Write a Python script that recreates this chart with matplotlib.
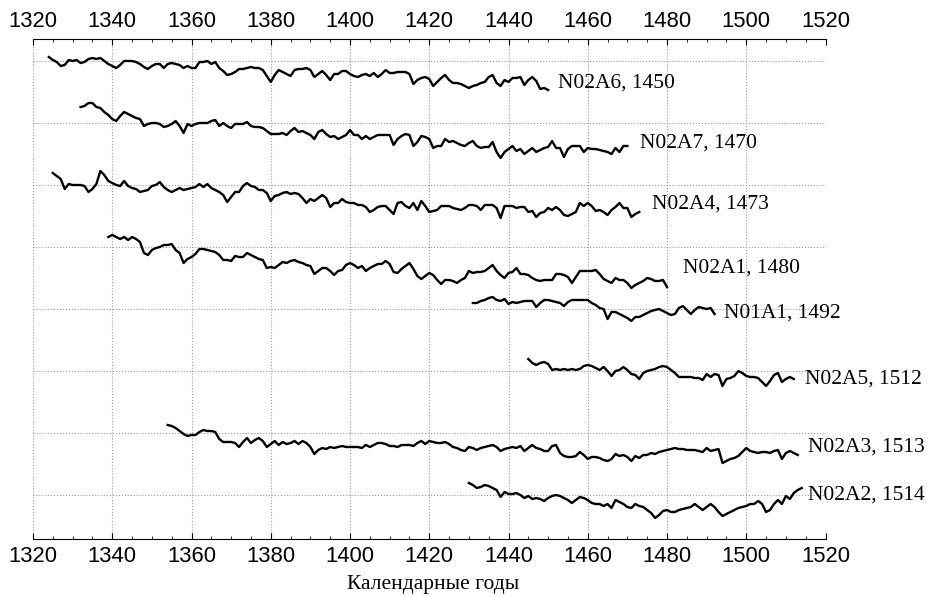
""" Tree-ring series of N01/N02 samples against calendar years """
import numpy as np
from matplotlib import pyplot as plt
from matplotlib.ticker import MultipleLocator

plt.rcParams['font.family'] = ['Liberation Sans', 'DejaVu Sans']

# Sample names and their end (outermost ring) years
names = ['N02A6', 'N02A7', 'N02A4', 'N02A1', 'N01A1', 'N02A5', 'N02A3', 'N02A2']
end_years = [1450, 1470, 1473, 1480, 1492, 1512, 1513, 1514]

# Annual values (deviation from each series' reference level)
n02a6 = [4, 1, -1, -5, -4, 1, 0, 1, -2, -1,
         2, 3, 2, 3, 0, -3, -5, -7, -4, 0,
         0, 0, -1, -3, -6, -8, -5, -3, -3, -7,
         -3, -2, -3, -4, -7, -5, -7, -7, -1, -1,
         0, -3, -1, -7, -10, -14, -13, -11, -8, -8,
         -7, -6, -7, -7, -9, -15, -21, -14, -9, -11,
         -13, -15, -9, -8, -8, -7, -9, -16, -13, -10,
         -14, -19, -13, -13, -10, -10, -13, -15, -16, -14,
         -13, -15, -12, -16, -13, -9, -12, -12, -11, -11,
         -11, -13, -23, -19, -17, -16, -18, -25, -21, -17,
         -14, -19, -22, -22, -23, -25, -27, -25, -24, -22,
         -21, -16, -14, -22, -25, -19, -21, -17, -17, -16,
         -24, -19, -16, -20, -28, -27, -29]

n02a7 = [16, 17, 20, 20, 16, 15, 11, 8, 4, 2,
         7, 11, 9, 7, 5, 4, -3, -1, 0, 0,
         -1, -4, -3, -1, 2, -3, -10, -1, -3, -1,
         0, 0, 0, 2, 3, -3, 0, -3, -5, -1,
         -1, -1, 1, -3, -4, -4, -5, -8, -11, -11,
         -11, -10, -12, -8, -5, -9, -8, -10, -12, -16,
         -9, -7, -11, -14, -13, -16, -14, -12, -7, -12,
         -12, -16, -13, -16, -14, -12, -12, -12, -12, -22,
         -16, -13, -11, -12, -23, -19, -13, -14, -16, -25,
         -23, -23, -16, -19, -18, -20, -22, -23, -20, -18,
         -23, -25, -24, -24, -19, -29, -35, -29, -26, -23,
         -28, -26, -31, -28, -25, -29, -27, -25, -24, -18,
         -25, -25, -34, -26, -23, -23, -23, -29, -25, -26,
         -26, -27, -28, -29, -31, -25, -29, -23, -23]

n02a4 = [12, 9, 6, -4, 1, 0, 0, 0, -1, -7,
         -4, 1, 14, 10, 4, 2, 0, -1, 4, -1,
         -3, -4, -7, -6, -5, -1, 0, 3, -2, -5,
         -7, -5, -3, -5, -4, -3, -2, 1, -2, 1,
         -3, -5, -7, -10, -17, -12, -7, -7, -1, 2,
         -1, -2, -5, -5, -8, -16, -11, -10, -8, -7,
         -9, -8, -9, -13, -18, -14, -16, -13, -10, -13,
         -22, -18, -18, -14, -17, -18, -18, -20, -20, -22,
         -27, -25, -22, -21, -21, -25, -29, -18, -17, -21,
         -23, -18, -25, -16, -21, -27, -26, -25, -21, -21,
         -21, -23, -24, -25, -23, -20, -20, -21, -25, -20,
         -20, -20, -23, -33, -21, -21, -21, -23, -22, -22,
         -27, -26, -32, -28, -27, -23, -25, -22, -25, -30,
         -31, -29, -27, -18, -21, -18, -21, -26, -25, -27,
         -30, -25, -22, -18, -23, -23, -32, -29, -27]

n02a1 = [10, 12, 10, 8, 10, 7, 10, 8, 5, -6,
         -8, -3, -1, 0, 2, 2, 3, -3, -6, -16,
         -12, -10, -7, -2, -2, -3, -4, -5, -8, -13,
         -13, -14, -9, -10, -10, -6, -8, -10, -12, -13,
         -21, -20, -21, -18, -15, -16, -14, -13, -15, -16,
         -18, -19, -27, -24, -21, -21, -24, -28, -24, -23,
         -18, -16, -18, -21, -19, -24, -21, -19, -17, -17,
         -14, -17, -25, -26, -22, -19, -16, -22, -29, -32,
         -29, -26, -28, -33, -37, -33, -33, -34, -36, -33,
         -31, -24, -26, -25, -25, -24, -21, -18, -24, -28,
         -31, -26, -25, -21, -27, -27, -28, -31, -33, -34,
         -33, -33, -33, -27, -27, -28, -30, -36, -30, -24,
         -24, -24, -24, -23, -27, -32, -34, -36, -31, -33,
         -33, -36, -41, -38, -36, -34, -31, -32, -34, -34,
         -33, -40]

n01a1 = [6, 6, 8, 9, 11, 12, 9, 8, 10, 5,
         7, 6, 7, 8, 8, 8, 2, 6, 9, 9,
         8, 7, 6, 3, 7, 9, 9, 9, 9, 9,
         6, 4, 1, 0, -10, -3, -3, -5, -7, -9,
         -12, -8, -8, -6, -4, -2, -1, 0, -2, -4,
         -6, -5, 1, 3, -1, -5, -1, 2, 1, 0,
         1, -5]

n02a5 = [12, 8, 6, 8, 9, 7, 1, 2, 1, 2,
         1, 2, 1, 2, 5, 6, 5, 3, 1, 4,
         0, -5, 0, 1, 4, 1, -3, -4, -8, -2,
         0, 1, 2, 4, 5, 4, 1, -2, -6, -6,
         -6, -6, -7, -7, -9, -3, -6, -3, -4, -15,
         -8, -7, -5, 0, -2, -5, -6, -6, -7, -11,
         -15, -10, -4, -2, -11, -8, -6, -8]

n02a3 = [8, 7, 5, 2, -1, -3, -2, -2, 1, 3,
         2, 2, 1, -6, -9, -9, -9, -10, -14, -9,
         -5, -10, -7, -5, -8, -14, -11, -8, -12, -9,
         -11, -10, -8, -11, -8, -10, -14, -21, -17, -15,
         -16, -14, -15, -14, -13, -14, -14, -14, -14, -15,
         -12, -14, -12, -10, -10, -11, -13, -13, -14, -12,
         -12, -12, -13, -10, -8, -11, -8, -9, -10, -10,
         -9, -11, -14, -15, -17, -18, -14, -15, -17, -15,
         -14, -13, -12, -14, -18, -16, -15, -14, -15, -13,
         -18, -15, -12, -15, -16, -18, -18, -13, -12, -20,
         -23, -24, -24, -23, -19, -22, -26, -24, -24, -25,
         -27, -28, -26, -21, -23, -22, -24, -28, -23, -25,
         -22, -22, -20, -21, -19, -18, -17, -16, -15, -16,
         -16, -17, -17, -17, -18, -19, -15, -18, -17, -16,
         -30, -28, -26, -25, -23, -19, -15, -18, -19, -20,
         -19, -19, -20, -18, -17, -26, -20, -18, -20, -22]

n02a2 = [12, 10, 7, 8, 10, 9, 7, 5, -2, 3,
         1, 1, 2, 0, -3, -1, -4, -3, -4, -6,
         -3, -1, 0, -1, -3, -5, -8, -5, -2, -3,
         -5, -8, -9, -9, -11, -9, -13, -5, -7, -9,
         -12, -13, -9, -11, -12, -15, -18, -23, -20, -16,
         -15, -17, -17, -15, -14, -13, -12, -9, -12, -15,
         -12, -9, -12, -17, -21, -19, -17, -15, -13, -12,
         -11, -9, -9, -6, -9, -17, -15, -9, -5, -9,
         -1, -4, 2, 5, 7]

series = [n02a6, n02a7, n02a4, n02a1, n01a1, n02a5, n02a3, n02a2]

# Layout: vertical spacing of the stacked series and label nudges
row_step = 62.
label_drop = [22, 20, 19, 21, 4, 8, 14, 0]
label_gap = [2.5, 3.3, 3.3, 4.0, 2.5, 2.8, 2.5, 1.5]

fig = plt.figure(figsize=(9.31, 5.97), dpi=100)
ax = fig.add_axes([33/931, 1-539/597, 792.5/931, (539-38.5)/597])

for ii, (name, end, vals) in enumerate(zip(names, end_years, series)):
    vals = np.asarray(vals, dtype=float)
    years = np.arange(end - len(vals) + 1, end + 1)
    base = -ii * row_step
    ax.plot(years, base + vals, color='k', lw=1.7, solid_joinstyle='round')
    ax.text(end + label_gap[ii], base - label_drop[ii], f'{name}, {end}',
            family='Liberation Serif', fontsize=15.5, va='center', ha='left')

# Axes
ax.set_xlim(1320, 1520)
ax.set_ylim(-(539-61), 61-38.5)
ax.set_yticks(-row_step * np.arange(len(names)))
ax.tick_params(axis='y', left=False, labelleft=False)
ax.xaxis.set_major_locator(MultipleLocator(20))
ax.xaxis.set_minor_locator(MultipleLocator(5))
ax.tick_params(axis='x', which='both', direction='in', top=True, bottom=True,
               labeltop=True, labelbottom=True, labelsize=15.8, pad=5)
ax.tick_params(axis='x', which='major', length=4)
ax.tick_params(axis='x', which='minor', length=2.5)
for sp in ['left', 'right']:
    ax.spines[sp].set_visible(False)
ax.set_axisbelow(True)
ax.grid(True, ls=':', color='#9a9a9a', lw=0.8)

fig.text(433/931, 1-585/597, 'Календарные годы', family='Liberation Serif',
         fontsize=15.5, ha='center', va='center')

plt.savefig('out.png', dpi=100)
